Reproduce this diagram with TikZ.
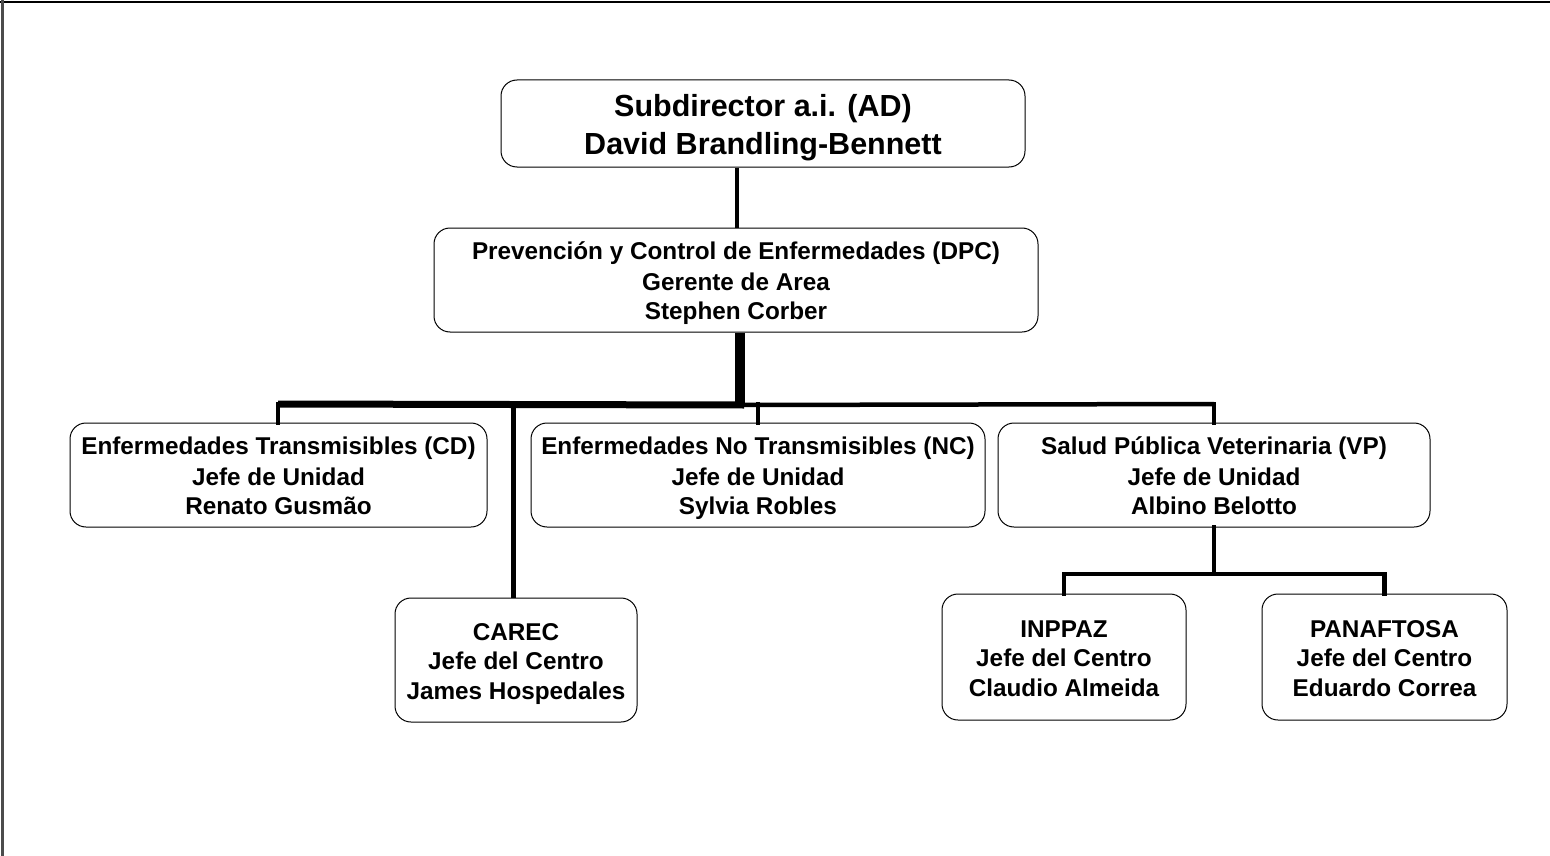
\documentclass[tikz,border=0pt]{standalone}
\usepackage{fontspec}
\setmainfont{Liberation Sans}
\newcommand\Ln[1]{\rule[-5pt]{0pt}{29.5pt}#1}
\newcommand\Lb[1]{\rule[-7pt]{0pt}{38pt}#1}
\begin{document}
\begin{tikzpicture}[x=1pt,y=-1pt,
  box/.style={draw=black, line width=1pt, rounded corners=16pt, align=center,
    inner sep=0pt, font=\bfseries\fontsize{24.3}{29.5}\selectfont},
  bigbox/.style={box, font=\bfseries\fontsize{30.5}{38}\selectfont},
  link/.style={line width=4.5pt, line cap=rect},
  trunk/.style={line width=9.5pt},
]
\useasboundingbox (0,0) rectangle (1550,856);
\fill[white] (0,0) rectangle (1550,856);
\draw[black, line width=2pt] (0,2) -- (1550,2);
\draw[black!70, line width=2.5pt] (2.5,0) -- (2.5,856);

\node[bigbox, minimum width=524pt, minimum height=87pt] (AD) at (763,123.5)
  {\Lb{Subdirector a.i. (AD)}\\\Lb{David Brandling-Bennett}};
\node[box, minimum width=604pt, minimum height=104pt] (DPC) at (736,280)
  {\Ln{Prevención y Control de Enfermedades (DPC)}\\\Ln{Gerente de Area}\\\Ln{Stephen Corber}};
\node[box, minimum width=417pt, minimum height=104pt] (CD) at (278.5,475)
  {\Ln{Enfermedades Transmisibles (CD)}\\\Ln{Jefe de Unidad}\\\Ln{Renato Gusmão}};
\node[box, minimum width=454pt, minimum height=104pt] (NC) at (758,475)
  {\Ln{Enfermedades No Transmisibles (NC)}\\\Ln{Jefe de Unidad}\\\Ln{Sylvia Robles}};
\node[box, minimum width=432pt, minimum height=104pt] (VP) at (1214,475)
  {\Ln{Salud Pública Veterinaria (VP)}\\\Ln{Jefe de Unidad}\\\Ln{Albino Belotto}};
\node[box, minimum width=242pt, minimum height=124pt] (CAREC) at (516,660)
  {\Ln{CAREC}\\\Ln{Jefe del Centro}\\\Ln{James Hospedales}};
\node[box, minimum width=244pt, minimum height=126pt] (INPPAZ) at (1064,657)
  {\Ln{INPPAZ}\\\Ln{Jefe del Centro}\\\Ln{Claudio Almeida}};
\node[box, minimum width=245pt, minimum height=126pt] (PANAF) at (1384.5,657)
  {\Ln{PANAFTOSA}\\\Ln{Jefe del Centro}\\\Ln{Eduardo Correa}};

% top connector
\coordinate (adx) at (737,0);
\draw[line width=4.5pt] (AD.south -| adx) -- (DPC.north -| adx);

% trunk and bus
\coordinate (tr) at (740,405);
\coordinate (busL) at (278,404);
\coordinate (busR) at (1214,404);
\coordinate (carx) at (513.5,0);
\draw[trunk] (DPC.south -| tr) -- (tr);
\draw[line width=7pt] (busL) -- (tr -| 744,0);
\draw[line width=4.5pt] (tr) -- (busR);
\draw[link] (busL) -- (CD.north -| busL);
\draw[link] (busL -| NC.north) -- (NC.north);
\draw[link] (busR) -- (VP.north -| busR);
\draw[line width=5pt] (busL -| carx) -- (CAREC.north -| carx);

% VP subtree
\coordinate (vpbus) at (1214,574);
\draw[link] (VP.south) -- (vpbus);
\draw[link] (vpbus -| INPPAZ.north) -- (vpbus -| PANAF.north);
\draw[link] (vpbus -| INPPAZ.north) -- (INPPAZ.north);
\draw[link] (vpbus -| PANAF.north) -- (PANAF.north);
\end{tikzpicture}
\end{document}
